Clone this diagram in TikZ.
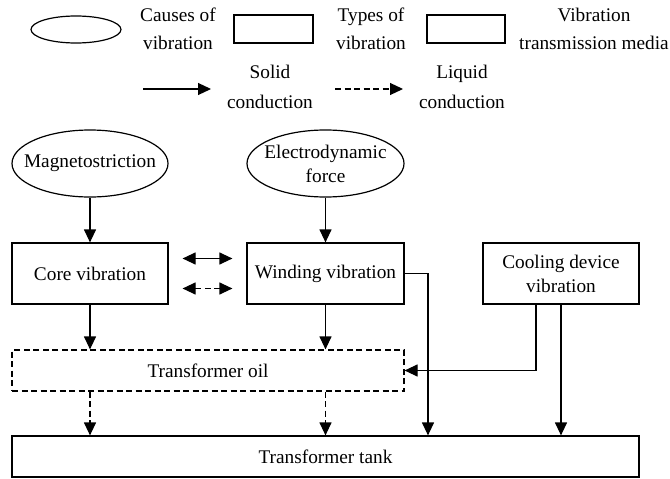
\documentclass[tikz,border=0pt]{standalone}
\usepackage{fontspec}
\setmainfont{Liberation Serif}
\usetikzlibrary{shapes.geometric,arrows.meta}

\begin{document}
\begin{tikzpicture}[x=1pt, y=1pt, line width=1.2pt,
      font=\fontsize{19.3}{24}\selectfont,
      >={Triangle[length=13pt,width=12pt]},
      cause/.style = {draw, ellipse, inner sep=0pt},
      kind/.style = {draw, rectangle, inner sep=0pt, align=center},
      txt/.style = {align=center, inner sep=0pt},
      liquid/.style = {dash pattern=on 6pt off 3.5pt}]
      \useasboundingbox (0,0) rectangle (670,-479);

      \node[cause, minimum width=90pt, minimum height=27pt] (lcause) at (76,-29.5) {};
      \node[txt] (lcausetxt) at (178,-29) {Causes of\\[4pt]vibration};
      \node[kind, minimum width=79pt, minimum height=28pt] (lkind) at (273.5,-29) {};
      \node[txt] (lkindtxt) at (371,-29) {Types of\\[4pt]vibration};
      \node[kind, minimum width=78pt, minimum height=28pt] (lmedia) at (466,-29) {};
      \node[txt] (lmediatxt) at (594,-29) {Vibration\\[4pt]transmission media};
      \coordinate (lsolida) at (143,-89);
      \coordinate (lsolidb) at (211,-89);
      \node[txt] (lsolidtxt) at (270,-87) {Solid\\[6pt]conduction};
      \coordinate (lliquida) at (335,-89);
      \coordinate (lliquidb) at (403,-89);
      \node[txt] (lliquidtxt) at (462,-87) {Liquid\\[6pt]conduction};

      \node[cause, minimum width=156pt, minimum height=67pt,
        label={[txt]center:Magnetostriction}] (magneto) at (90,-163.5) {};
      \node[cause, minimum width=157pt, minimum height=67pt,
        label={[txt]center:Electrodynamic\\force}] (electro) at (325.5,-163.5) {};
      \node[kind, minimum width=156pt, minimum height=61pt] (core) at (90,-273.5) {Core vibration};
      \node[kind, minimum width=157pt, minimum height=61pt] (winding) at (325.5,-273.5) {Winding vibration};
      \node[kind, minimum width=156pt, minimum height=61pt] (cooling) at (561,-273.5) {Cooling device\\vibration};
      \node[kind, liquid, minimum width=392pt, minimum height=41pt] (oil) at (208,-370.5) {Transformer oil};
      \node[kind, minimum width=627pt, minimum height=41pt] (tank) at (325.5,-456.5) {Transformer tank};
      \coordinate (wbend) at (428,-273.5);
      \coordinate (cleft) at (536,-304);

      \draw[->] (lsolida) to (lsolidb);
      \draw[->, liquid] (lliquida) to (lliquidb);
      \draw[->] (magneto) to (core);
      \draw[->] (electro) to (winding);
      \draw[<->] ([shift={(14pt,15pt)}]core.east) to ([shift={(-14pt,15pt)}]winding.west);
      \draw[<->, liquid] ([shift={(14pt,-15pt)}]core.east) to ([shift={(-14pt,-15pt)}]winding.west);
      \draw[->] (core) to (oil.north -| core);
      \draw[->] (winding) to (oil.north -| winding);
      \draw[->, liquid] (oil.south -| core) to (tank.north -| core);
      \draw[->, liquid] (oil.south -| winding) to (tank.north -| winding);
      \draw[->] (winding.east) -- (wbend) -- (tank.north -| wbend);
      \draw[->] (cleft) |- (oil.east);
      \draw[->] (cooling) to (tank.north -| cooling);

    \end{tikzpicture}
\end{document}
